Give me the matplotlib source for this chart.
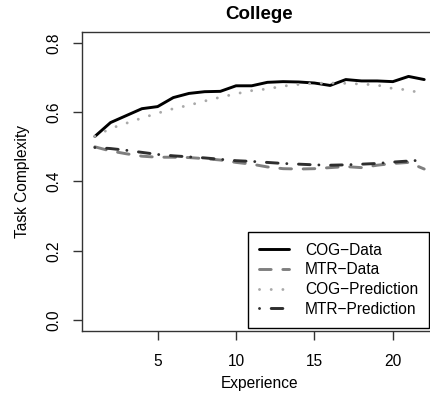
import matplotlib
matplotlib.use("Agg")
import matplotlib.pyplot as plt

experience = list(range(1, 23))
cog_data = [0.530, 0.570, 0.590, 0.610, 0.616, 0.642, 0.654, 0.659, 0.660, 0.676, 0.676,
            0.686, 0.688, 0.687, 0.684, 0.677, 0.694, 0.690, 0.690, 0.688, 0.703, 0.694]
mtr_data = [0.500, 0.488, 0.480, 0.473, 0.470, 0.470, 0.469, 0.466, 0.462, 0.455, 0.450,
            0.442, 0.437, 0.436, 0.437, 0.440, 0.443, 0.440, 0.447, 0.452, 0.455, 0.436]
cog_pred = [0.530, 0.553, 0.568, 0.583, 0.597, 0.610, 0.620, 0.632, 0.643, 0.653, 0.662,
            0.667, 0.675, 0.680, 0.683, 0.684, 0.683, 0.681, 0.678, 0.668, 0.664, 0.652]
mtr_pred = [0.498, 0.495, 0.490, 0.484, 0.478, 0.474, 0.471, 0.468, 0.464, 0.460, 0.458,
            0.455, 0.452, 0.450, 0.448, 0.447, 0.448, 0.450, 0.452, 0.456, 0.459, 0.462]

labels = ["COG\u2212Data", "MTR\u2212Data", "COG\u2212Prediction", "MTR\u2212Prediction"]
x_ticks = [5, 10, 15, 20]
y_ticks = [0.0, 0.2, 0.4, 0.6, 0.8]

plt.rcParams['font.family'] = ['Liberation Sans', 'DejaVu Sans']

W, H = 431, 393
fig = plt.figure(figsize=(W / 100, H / 100), dpi=100)
left, right, top, bottom = 81.7, 437.4, 31.7, 331.3
ax = fig.add_axes([left / W, 1 - bottom / H, (right - left) / W, (bottom - top) / H])

lw = 2.1
common = dict(linewidth=lw, solid_capstyle='round', dash_capstyle='round')
ax.plot(experience, cog_data, color='black', linestyle='-', label=labels[0], **common)
ax.plot(experience, mtr_data, color='#7f7f7f', linestyle=(0, (4, 4)), label=labels[1], **common)
ax.plot(experience, cog_pred, color='#a9a9a9', linestyle=(0, (0.01, 4)), label=labels[2], **common)
ax.plot(experience, mtr_pred, color='#2e2e2e', linestyle=(0, (0.01, 4, 4, 3)), label=labels[3], **common)

ax.set_xlim(0.16, 22.84)
ax.set_ylim(-0.032, 0.832)
ax.set_xticks(x_ticks)
ax.set_xticklabels([str(t) for t in x_ticks])
ax.set_yticks(y_ticks)
ax.set_yticklabels([f"{t:.1f}" for t in y_ticks], rotation=90, va='center')

fs = 11.2
ax.tick_params(axis='both', length=6.6, width=1.0, labelsize=fs, color='#333333')
ax.tick_params(axis='x', pad=9.5)
ax.tick_params(axis='y', pad=8)
for s in ax.spines.values():
    s.set_linewidth(1.0)
    s.set_color('#333333')

ax.set_xlabel("Experience", fontsize=fs, labelpad=5)
ax.set_ylabel("Task Complexity", fontsize=fs, labelpad=12)
ax.set_title("College", fontsize=13.5, fontweight='bold', pad=9)

leg = ax.legend(loc='lower right', bbox_to_anchor=(429 / W, (H - 327.5) / H),
                bbox_transform=fig.transFigure, fontsize=fs, frameon=True,
                fancybox=False, edgecolor='black', borderpad=0.7, borderaxespad=0,
                handlelength=1.95, handletextpad=1.0, labelspacing=0.3)
leg.get_frame().set_linewidth(1.0)
leg.get_frame().set_alpha(1)

fig.savefig("out.png", dpi=100)
